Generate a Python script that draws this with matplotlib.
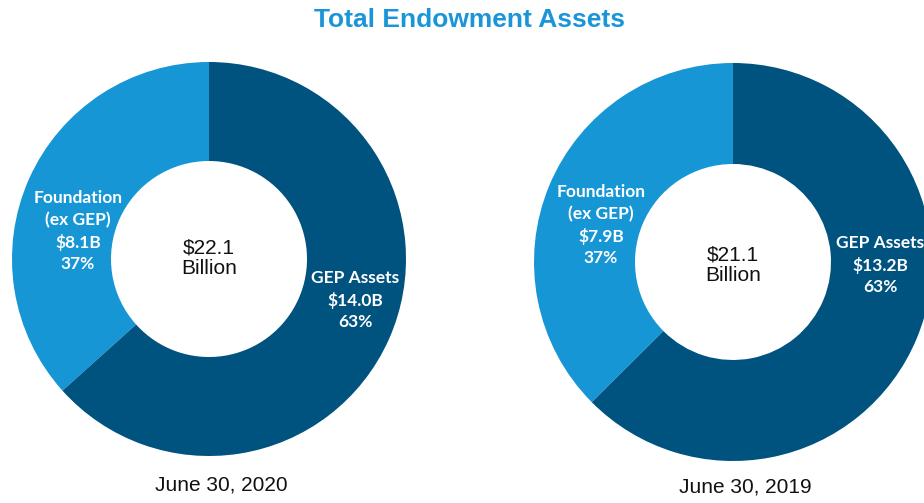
import matplotlib
matplotlib.use("Agg")
import matplotlib.pyplot as plt

# ---- data ----
title = "Total Endowment Assets"
categories = ["Foundation\n(ex GEP)", "GEP Assets"]
values_2020 = [8.1, 14.0]
values_2019 = [7.9, 13.2]
dates = ["June 30, 2020", "June 30, 2019"]

# ---- style ----
W, H = 924, 503
colors = ["#1796d6", "#00527f"]
title_color = "#1a96d8"

fig = plt.figure(figsize=(W / 100, H / 100), dpi=100)
ax = fig.add_axes([0, 0, 1, 1])

def py(y):
    return H - y

charts = [
    dict(vals=values_2020, date=dates[0], c=(209, 259), R=197, r=98,
         lab_pos=[(78, 231), (355, 300)], tot_pos=(209, 258), date_pos=(221, 485)),
    dict(vals=values_2019, date=dates[1], c=(733, 262), R=199, r=98,
         lab_pos=[(601, 225), (880, 265)], tot_pos=(733, 265), date_pos=(745, 487)),
]

for ch in charts:
    cx, cy = ch["c"]
    ax.pie(ch["vals"], colors=colors, startangle=90, counterclock=True,
           center=(cx, py(cy)), radius=ch["R"],
           wedgeprops=dict(width=ch["R"] - ch["r"], linewidth=0, edgecolor="none"))
    total = sum(ch["vals"])
    for cat, v, (lx, ly) in zip(categories, ch["vals"], ch["lab_pos"]):
        pct = round(100 * v / total)
        ax.text(lx, py(ly), f"{cat}\n${v:.1f}B\n{pct}%", ha="center", va="center",
                color="white", fontsize=12.5, fontweight="bold", family="Lato",
                linespacing=1.4)
    tx, ty = ch["tot_pos"]
    ax.text(tx, py(ty), f"${total:.1f}\nBillion", ha="center", va="center",
            color="#111111", fontsize=15, family="Liberation Sans", linespacing=1.1)
    dx, dy = ch["date_pos"]
    ax.text(dx, py(dy), ch["date"], ha="center", va="center",
            color="#111111", fontsize=15, family="Liberation Sans")

ax.text(469, py(20), title, ha="center", va="center", color=title_color,
        fontsize=19, fontweight="bold", family="Liberation Sans")

ax.set_xlim(0, W)
ax.set_ylim(0, H)
ax.set_aspect("equal")
ax.axis("off")

fig.savefig("out.png", dpi=100)
